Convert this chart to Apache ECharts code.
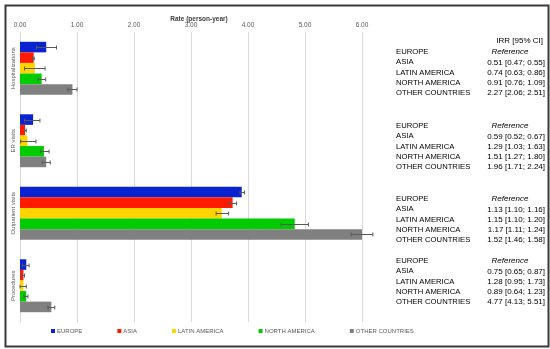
<!DOCTYPE html>
<html><head><meta charset="utf-8">
<script src="https://cdn.jsdelivr.net/npm/echarts@6/dist/echarts.min.js"></script>
<style>html,body{margin:0;padding:0;background:#fff}#c{width:550px;height:349px}</style>
</head><body><div id="c"></div>
<script>
var categories = ['Hospitalizations', 'ER visits', 'Outpatient visits', 'Procedures'];
var regions = ['EUROPE', 'ASIA', 'LATIN AMERICA', 'NORTH AMERICA', 'OTHER COUNTRIES'];
var colors = ['#0A23D2', '#FF1A00', '#FFD400', '#00CC00', '#808080'];
var xTicks = ['0.00', '1.00', '2.00', '3.00', '4.00', '5.00', '6.00'];
// rates per region, in category order
var europe = [0.46, 0.23, 3.89, 0.11];
var asia = [0.24, 0.09, 3.73, 0.06];
var latin = [0.26, 0.13, 3.54, 0.06];
var northAm = [0.38, 0.42, 4.82, 0.11];
var other = [0.92, 0.46, 6.00, 0.55];
// 95% CI low / high
var europeLo = [0.29, 0.08, 3.86, 0.04], europeHi = [0.64, 0.35, 3.94, 0.16];
var asiaLo = [0.22, 0.08, 3.67, 0.03], asiaHi = [0.25, 0.11, 3.80, 0.08];
var latinLo = [0.08, 0.01, 3.44, 0.00], latinHi = [0.44, 0.28, 3.66, 0.11];
var northLo = [0.32, 0.36, 4.58, 0.07], northHi = [0.45, 0.51, 5.06, 0.14];
var otherLo = [0.84, 0.39, 5.81, 0.49], otherHi = [1.00, 0.53, 6.19, 0.61];
// IRR table text per category
var irrHeader = 'IRR [95% CI]';
var irrHosp = ['Reference', '0.51 [0.47; 0.55]', '0.74 [0.63; 0.86]', '0.91 [0.76; 1.09]', '2.27 [2.06; 2.51]'];
var irrER = ['Reference', '0.59 [0.52; 0.67]', '1.29 [1.03; 1.63]', '1.51 [1.27; 1.80]', '1.96 [1.71; 2.24]'];
var irrOut = ['Reference', '1.13 [1.10; 1.16]', '1.15 [1.10; 1.20]', '1.17 [1.11; 1.24]', '1.52 [1.46; 1.58]'];
var irrProc = ['Reference', '0.75 [0.65; 0.87]', '1.28 [0.95; 1.73]', '0.89 [0.64; 1.23]', '4.77 [4.13; 5.51]'];

var values = [europe, asia, latin, northAm, other];
var lows = [europeLo, asiaLo, latinLo, northLo, otherLo];
var highs = [europeHi, asiaHi, latinHi, northHi, otherHi];
var irrAll = [irrHosp, irrER, irrOut, irrProc];

var FONT = '"Liberation Sans", Arial, sans-serif';
var GAP = 0.27;

var series = [];
regions.forEach(function (r, i) {
  series.push({
    type: 'bar', name: r, data: values[i], barGap: '0%', barCategoryGap: (GAP * 100) + '%',
    itemStyle: { color: colors[i] }, z: 2
  });
});
regions.forEach(function (r, i) {
  var d = lows[i].map(function (lo, k) { return [lo, highs[i][k], k]; });
  series.push({
    type: 'custom', name: 'err' + i, data: d, z: 10, clip: false,
    encode: { x: [0, 1], y: 2 },
    renderItem: function (params, api) {
      var ci = api.value(2);
      var pLo = api.coord([api.value(0), ci]);
      var pHi = api.coord([api.value(1), ci]);
      var band = api.size([0, 1])[1];
      var bw = band * (1 - GAP) / 5;
      var y = Math.round(pLo[1] + (i - 2) * bw) + 0.5;
      var st = { stroke: '#595959', lineWidth: 1 };
      var cap = 2;
      return { type: 'group', children: [
        { type: 'line', shape: { x1: pLo[0], y1: y, x2: pHi[0], y2: y }, style: st },
        { type: 'line', shape: { x1: pLo[0], y1: y - cap, x2: pLo[0], y2: y + cap }, style: st },
        { type: 'line', shape: { x1: pHi[0], y1: y - cap, x2: pHi[0], y2: y + cap }, style: st }
      ] };
    }
  });
});

// table text graphics
var graphics = [{
  type: 'rect', left: 3, top: 3, shape: { x: 0, y: 0, width: 543, height: 341 },
  style: { fill: 'none', stroke: '#3a3a3a', lineWidth: 2 }, z: 100
}];
var sectionTops = [52, 126, 199, 261];
var rowH = 10.3;
graphics.push({ type: 'text', x: 543, y: 41, style: { text: irrHeader, font: '8px ' + FONT, fill: '#000', textAlign: 'right', textVerticalAlign: 'middle' } });
irrAll.forEach(function (rows, s) {
  rows.forEach(function (t, k) {
    var y = sectionTops[s] + k * rowH;
    graphics.push({ type: 'text', x: 396, y: y, style: { text: regions[k], font: '7.7px ' + FONT, fill: '#000', textVerticalAlign: 'middle' } });
    if (k === 0) {
      graphics.push({ type: 'text', x: 491.5, y: y, style: { text: t, font: 'italic 8px ' + FONT, fill: '#000', textVerticalAlign: 'middle' } });
    } else {
      graphics.push({ type: 'text', x: 545, y: y, style: { text: t, font: '8px ' + FONT, fill: '#000', textAlign: 'right', textVerticalAlign: 'middle' } });
    }
  });
});

var chart = echarts.init(document.getElementById('c'), null, { renderer: 'canvas' });
chart.setOption({
  animation: false,
  backgroundColor: '#fff',
  textStyle: { fontFamily: FONT },
  title: {
    text: 'Rate (person-year)', left: 194, textAlign: 'center', top: 11,
    textStyle: { fontSize: 6.5, fontWeight: 'bold', color: '#404040', fontFamily: FONT }
  },
  legend: {
    data: regions.map(function (r) { return { name: r, icon: 'rect' }; }),
    left: 46, top: 323, itemWidth: 4, itemHeight: 4, itemGap: 35,
    textStyle: { fontSize: 6, color: '#595959', padding: [0, 0, 0, -3] },
    selectedMode: false
  },
  grid: { left: 20, right: 188, top: 32, bottom: 27 },
  xAxis: {
    type: 'value', position: 'top', min: 0, max: 6, interval: 1,
    axisLine: { show: false }, axisTick: { show: false },
    axisLabel: { fontSize: 6.5, color: '#595959', margin: 3, formatter: function (v) { return xTicks[Math.round(v)]; } },
    splitLine: { lineStyle: { color: '#d9d9d9', width: 1 } }
  },
  yAxis: {
    type: 'category', data: categories, inverse: true,
    axisLine: { show: false }, axisTick: { show: false },
    axisLabel: { rotate: 90, fontSize: 6, color: '#595959', margin: 4 }
  },
  series: series,
  graphic: graphics
});
</script></body></html>
